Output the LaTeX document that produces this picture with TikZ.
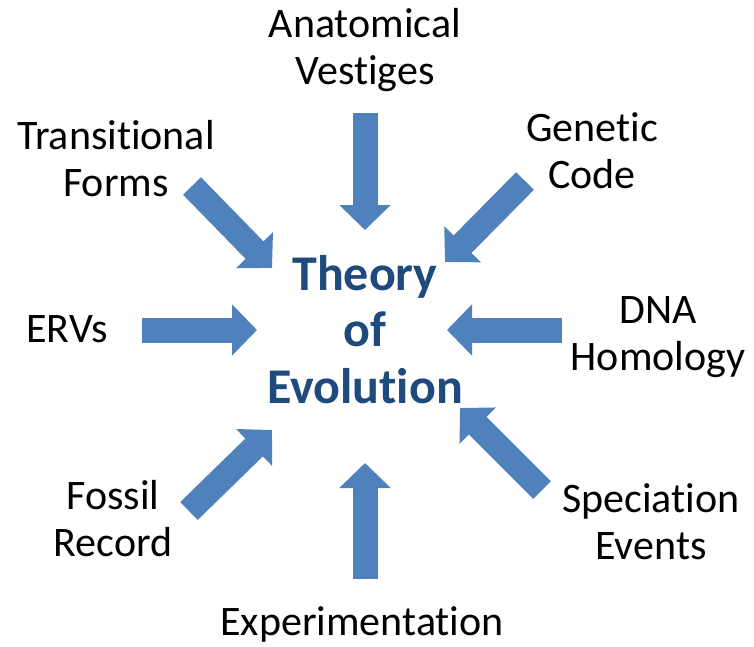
\documentclass[tikz,border=0pt]{standalone}
\usepackage{fontspec}
\setmainfont{Carlito}[Ligatures=NoCommon]
\usetikzlibrary{arrows.meta}
\definecolor{arrowblue}{HTML}{4F81BD}
\definecolor{titleblue}{HTML}{1F4A7C}
\begin{document}
\begin{tikzpicture}[x=1pt,y=-1pt,
  lbl/.style={align=center,anchor=base,font=\fontsize{42}{47}\selectfont,inner sep=0pt},
  fat/.style={draw=arrowblue,line width=25pt,-{Triangle[width=50pt,length=25pt,fill=arrowblue]}}]
\useasboundingbox[fill=white] (0,0) rectangle (754,647);
% labels (anchor = baseline of last line)
\node[lbl] (anat) at (365,85) {Anatomical\\Vestiges};
\node[lbl] (trans) at (116,196) {Transitional\\Forms};
\node[lbl] (gen) at (592,188) {Genetic\\Code};
\node[lbl] (erv) at (67,342) {ERVs};
\node[lbl] (dna) at (658,370) {DNA\\Homology};
\node[lbl] (fos) at (113,556) {Fossil\\Record};
\node[lbl] (spec) at (651,559) {Speciation\\Events};
\node[lbl] (exp) at (362,635) {Experimentation};
\node[align=center,anchor=base,inner sep=0pt,text=titleblue,font=\fontsize{50}{56.5}\selectfont\bfseries] (theory) at (365,403) {Theory\\of\\Evolution};
% arrow ends
\coordinate (a1) at (365,113); \coordinate (b1) at (365,230);
\coordinate (a2) at (192,186); \coordinate (b2) at (272,268);
\coordinate (a3) at (525,181); \coordinate (b3) at (445,262);
\coordinate (a4) at (142,330); \coordinate (b4) at (257,330);
\coordinate (a5) at (562,330); \coordinate (b5) at (447,330);
\coordinate (a6) at (189,511); \coordinate (b6) at (272,430);
\coordinate (a7) at (542,490); \coordinate (b7) at (460,408);
\coordinate (a8) at (365,579); \coordinate (b8) at (365,463);
\foreach \i in {1,...,8} {\draw[fat] (a\i) -- (b\i);}
\end{tikzpicture}
\end{document}
